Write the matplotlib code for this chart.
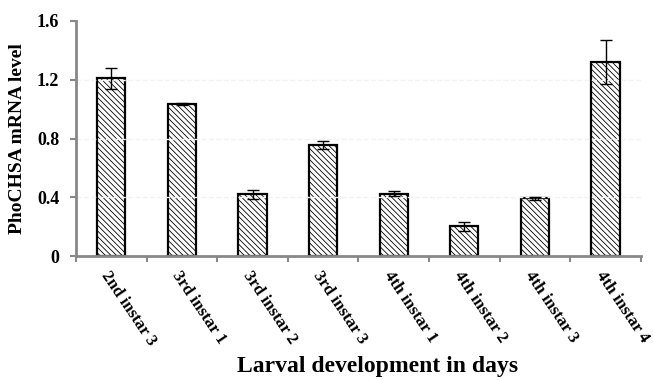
import numpy as np
import matplotlib.pyplot as plt

stages = ['2nd instar 3', '3rd instar 1', '3rd instar 2', '3rd instar 3',
          '4th instar 1', '4th instar 2', '4th instar 3', '4th instar 4']
levels = [1.21, 1.034, 0.42, 0.755, 0.425, 0.204, 0.393, 1.32]
errors = [0.07, 0.008, 0.03, 0.025, 0.015, 0.03, 0.012, 0.15]

plt.rcParams['font.family'] = ['Liberation Serif', 'DejaVu Serif']
plt.rcParams['font.weight'] = 'bold'
plt.rcParams['hatch.linewidth'] = 0.6
plt.rcParams['hatch.color'] = '#333333'

fig = plt.figure(figsize=(6.53, 3.80), dpi=100)
ax = fig.add_axes([0.1164, 0.326, 0.865, 0.619])

x = np.arange(len(stages))
ax.bar(x, levels, width=0.4, color='white', edgecolor='black', linewidth=1.6,
       hatch='\\\\\\\\\\\\', zorder=2)
ax.errorbar(x, levels, yerr=errors, fmt='none', ecolor='black', elinewidth=1,
            capsize=4, capthick=1, zorder=3)

# light gridlines only show through the hatched bars
for yv in [0.4, 0.8, 1.2]:
    ax.axhline(yv, xmin=0, xmax=1, color='#f2f2f2', linewidth=1, linestyle='--',
               zorder=2.5)

ax.set_xlim(-0.5, len(stages) - 0.5)
ax.set_ylim(0, 1.6)
ax.set_yticks([0, 0.4, 0.8, 1.2, 1.6])
ax.set_yticklabels(['0', '0.4', '0.8', '1.2', '1.6'], fontsize=13, fontweight='bold')
ax.set_xticks(x)
ax.set_xticklabels(stages, rotation=-56, ha='left', va='top', rotation_mode='anchor',
                   fontsize=12.2, fontweight='bold')
ax.set_xticks(np.arange(-0.5, len(stages)), minor=True)
ax.tick_params(axis='x', which='major', length=0, pad=9)
ax.tick_params(axis='x', which='minor', length=4, color='#888888', width=1.5)
ax.tick_params(axis='y', length=4, color='#888888', width=1.5, pad=8)

for side in ['top', 'right']:
    ax.spines[side].set_visible(False)
for side in ['left', 'bottom']:
    ax.spines[side].set_color('#888888')
    ax.spines[side].set_linewidth(2)

ax.set_ylabel('PhoCHSA mRNA level', fontsize=14, fontweight='bold', labelpad=8)
fig.text(0.578, 0.02, 'Larval development in days', ha='center', fontsize=17,
         fontweight='bold')

fig.savefig('out.png', dpi=100)
